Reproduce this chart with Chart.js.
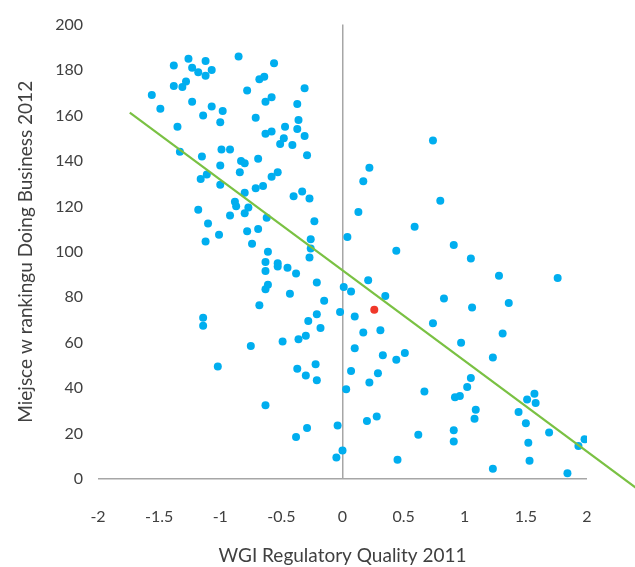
<!DOCTYPE html>
<html>
<head>
<meta charset="utf-8">
<script src="https://cdn.jsdelivr.net/npm/chart.js@4/dist/chart.umd.min.js"></script>
<style>
html,body{margin:0;padding:0;background:#fff;}
#wrap{width:635px;height:567px;position:relative;}
</style>
</head>
<body>
<div id="wrap"><canvas id="c" width="635" height="567"></canvas></div>
<script>
// WGI Regulatory Quality 2011 (x) vs Doing Business 2012 rank (y)
const countryX = [
-1.26,-1.12,-1.38,-1.23,-1.18,-1.12,-1.07,-0.85,-0.56,-1.28,-1.31,-1.38,-0.68,-0.64,-1.56,-1.49,-1.23,-1.07,-0.98,-1.14,
-1.00,-0.78,-0.63,-0.58,-0.71,-1.35,-0.63,-0.58,-1.33,-1.15,-0.99,-0.92,-1.00,-0.83,-0.80,-0.69,-0.84,-1.16,-1.11,-0.58,
-0.31,-0.37,-0.47,-0.36,-0.37,-0.48,-0.51,-0.41,-0.31,-0.29,-0.53,0.74,0.22,0.17,-1.00,-0.71,-0.65,-0.80,-0.88,-0.87,
-0.77,-1.18,-0.80,-0.92,-0.62,-1.10,-0.78,-0.69,-1.01,-1.12,-0.74,-0.61,-0.63,-0.63,-0.61,-0.63,-0.68,-1.14,-1.14,-0.40,
-0.33,-0.27,-0.23,-0.26,-0.26,-0.27,-0.53,-0.53,-0.45,-0.38,-0.21,-0.43,-0.15,-0.21,-0.02,-0.28,-0.18,-0.30,0.13,0.04,
0.59,0.80,0.44,0.21,0.01,0.07,0.35,0.83,0.10,0.17,0.31,0.74,0.91,1.05,1.28,1.76,1.06,1.36,1.31,-0.75,
-1.02,-0.63,-0.49,-0.36,-0.37,-0.22,-0.30,-0.21,-0.38,-0.29,-0.04,0.00,-0.05,0.10,0.33,0.44,0.51,0.07,0.29,0.22,
0.03,0.67,0.20,0.28,0.62,0.45,0.97,1.23,1.05,1.02,0.92,0.96,1.09,1.08,0.91,0.91,1.23,1.51,1.57,1.58,
1.44,1.50,1.69,1.52,1.53,1.98,1.93,1.84
];
const countryY = [
185,184,182,181,179,177.5,180,186,183,175,172.5,173,176,177,169,163,166,164,162,160,
157,171,166,168,159,155,152,153,144,142,145,145,138,140,139,141,135,132,134,133,
172,165,155,158,154,150,147.5,147,151,142.5,135,149,137,131,129.5,128,129,126,122,120,
119.5,118.5,117,116,115,112.5,109,110,107.5,104.5,103.5,100,95.5,91.5,85.5,83.5,76.5,71,67.5,124.5,
126.5,123.5,113.5,105.5,101.5,97.5,95,93.5,93,90.5,86.5,81.5,78.5,72.5,73.5,69.5,66.5,63,117.5,106.5,
111,122.5,100.5,87.5,84.5,82.5,80.5,79.5,71.5,64.5,65.5,68.5,103,97,89.5,88.5,75.5,77.5,64,58.5,
49.5,32.5,60.5,61.5,48.5,50.5,45.5,43.5,18.5,22.5,23.5,12.5,9.5,57.5,54.5,52.5,55.5,47.5,46.5,42.5,
39.5,38.5,25.5,27.5,19.5,8.5,60,53.5,44.5,40.5,36,36.5,30.5,26.5,21.5,16.5,4.5,35,37.5,33.5,
29.5,24.5,20.5,16,8,17.5,14.5,2.5
];
// Highlighted country (red)
const highlightX = [0.26];
const highlightY = [74.5];
// Linear trend line end points
const trendX = [-1.74, 2.45];
const trendY = [161.3, -5.9];
// Tick values and labels
const xTicks = [-2, -1.5, -1, -0.5, 0, 0.5, 1, 1.5, 2];
const xTickLabels = ['-2', '-1.5', '-1', '-0.5', '0', '0.5', '1', '1.5', '2'];
const yTicks = [0, 20, 40, 60, 80, 100, 120, 140, 160, 180, 200];

const xTitle = 'WGI Regulatory Quality 2011';
const yTitle = 'Miejsce w rankingu Doing Business 2012';

const toPts = (xs, ys) => xs.map((x, i) => ({x: x, y: ys[i]}));

const FONT = "Lato, 'Open Sans', sans-serif";
const TEXT = '#404040';
const AXIS = '#A6A6A6';

new Chart(document.getElementById('c'), {
  type: 'scatter',
  data: {
    datasets: [
      {
        type: 'line',
        data: toPts(trendX, trendY),
        borderColor: '#7AC143',
        borderWidth: 2.2,
        pointRadius: 0,
        fill: false,
        clip: false,
        order: 0
      },
      {
        data: toPts(highlightX, highlightY),
        backgroundColor: '#F0382A',
        borderWidth: 0,
        pointRadius: 4,
        order: 1
      },
      {
        data: toPts(countryX, countryY),
        backgroundColor: '#00AEEF',
        borderWidth: 0,
        pointRadius: 4,
        order: 2
      }
    ]
  },
  options: {
    responsive: false,
    animation: false,
    events: [],
    layout: {padding: {left: 0, right: 48, top: 23, bottom: 0}},
    plugins: {legend: {display: false}, tooltip: {enabled: false}},
    scales: {
      x: {
        type: 'linear',
        min: -2,
        max: 2,
        afterBuildTicks: (s) => { s.ticks = xTicks.map(v => ({value: v})); },
        afterFit: (s) => { s.height = 88; },
        border: {display: false},
        grid: {
          drawTicks: false,
          lineWidth: 1.5,
          color: (ctx) => (ctx.tick && ctx.tick.value === 0 ? AXIS : 'rgba(0,0,0,0)')
        },
        ticks: {
          padding: 28,
          color: TEXT,
          font: {family: FONT, size: 16},
          maxRotation: 0,
          autoSkip: false,
          callback: (v) => { const i = xTicks.indexOf(v); return i >= 0 ? xTickLabels[i] : String(v); }
        },
        title: {
          display: true,
          text: xTitle,
          color: TEXT,
          font: {family: FONT, size: 19},
          padding: {top: 0, bottom: 0}
        }
      },
      y: {
        type: 'linear',
        min: 0,
        max: 200,
        afterBuildTicks: (s) => { s.ticks = yTicks.map(v => ({value: v})); },
        afterFit: (s) => { s.width = 98; },
        border: {display: false},
        grid: {
          drawTicks: false,
          lineWidth: 1.5,
          color: (ctx) => (ctx.tick && ctx.tick.value === 0 ? AXIS : 'rgba(0,0,0,0)')
        },
        ticks: {
          padding: 15,
          color: TEXT,
          font: {family: FONT, size: 16},
          autoSkip: false
        },
        title: {
          display: true,
          text: yTitle,
          color: TEXT,
          font: {family: FONT, size: 19},
          padding: {top: 14, bottom: 0}
        }
      }
    }
  }
});
</script>
</body>
</html>
